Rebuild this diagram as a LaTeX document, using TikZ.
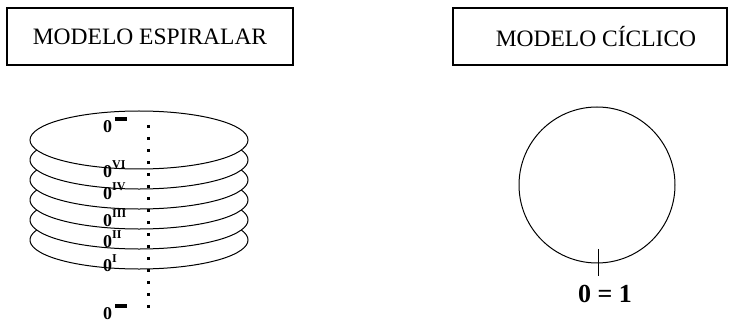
\documentclass[tikz,border=0pt]{standalone}
\usepackage{fontspec}
\setmainfont{Liberation Serif}
\newcommand{\ordsup}[1]{\raisebox{9pt}{\fontsize{12}{12}\selectfont\bfseries #1}}
\newcommand{\barsup}{\hspace{3pt}\rule[12pt]{12pt}{4pt}}

\begin{document}
\begin{tikzpicture}[x=1pt, y=1pt,
    title/.style = {draw, line width=1.1pt, rectangle, minimum height=57pt, font=\fontsize{23.5}{27}\selectfont},
    zero/.style = {anchor=base west, inner sep=0pt, font=\fontsize{18}{18}\selectfont\bfseries},
    ring/.style = {line width=1pt}]
    \useasboundingbox (0,0) rectangle (729,-323);

    % Nodes

    \node[title, minimum width=286pt] (espiral) at (150,-36.5) {MODELO ESPIRALAR};
    \node[title, minimum width=274pt] (ciclico) at (590,-36.5) {\hspace*{12pt}MODELO CÍCLICO};

    \node[zero] (z0) at (103,-133) {0\barsup};
    \node[zero] (z6) at (103,-178) {0\ordsup{VI}};
    \node[zero] (z4) at (103,-200) {0\ordsup{IV}};
    \node[zero] (z3) at (103,-227) {0\ordsup{III}};
    \node[zero] (z2) at (103,-248) {0\ordsup{II}};
    \node[zero] (z1) at (103,-272) {0\ordsup{I}};
    \node[zero] (zb) at (103,-320) {0\barsup};

    \coordinate (axtop) at (148,-125);
    \coordinate (axbot) at (148,-310);

    \node[draw, ring, circle, minimum size=156pt, inner sep=0pt] (circ) at (597,-185) {};
    \coordinate (ttop) at (598,-249);
    \coordinate (tbot) at (598,-276);
    \node[inner sep=0pt, font=\fontsize{26}{26}\selectfont\bfseries] (eq) at (605,-294) {0 = 1};

    % Edges

    \draw[ring] (139,-140) ellipse [x radius=109, y radius=29];
    \foreach \k in {1,...,5}
        \draw[ring] (139,{-140-20*\k}) ++(160:109 and 29)
            arc[start angle=160, end angle=380, x radius=109, y radius=29];

    \draw[line width=3pt, dash pattern=on 3pt off 9pt] (axtop) -- (axbot);
    \draw[ring] (ttop) -- (tbot);

\end{tikzpicture}
\end{document}
